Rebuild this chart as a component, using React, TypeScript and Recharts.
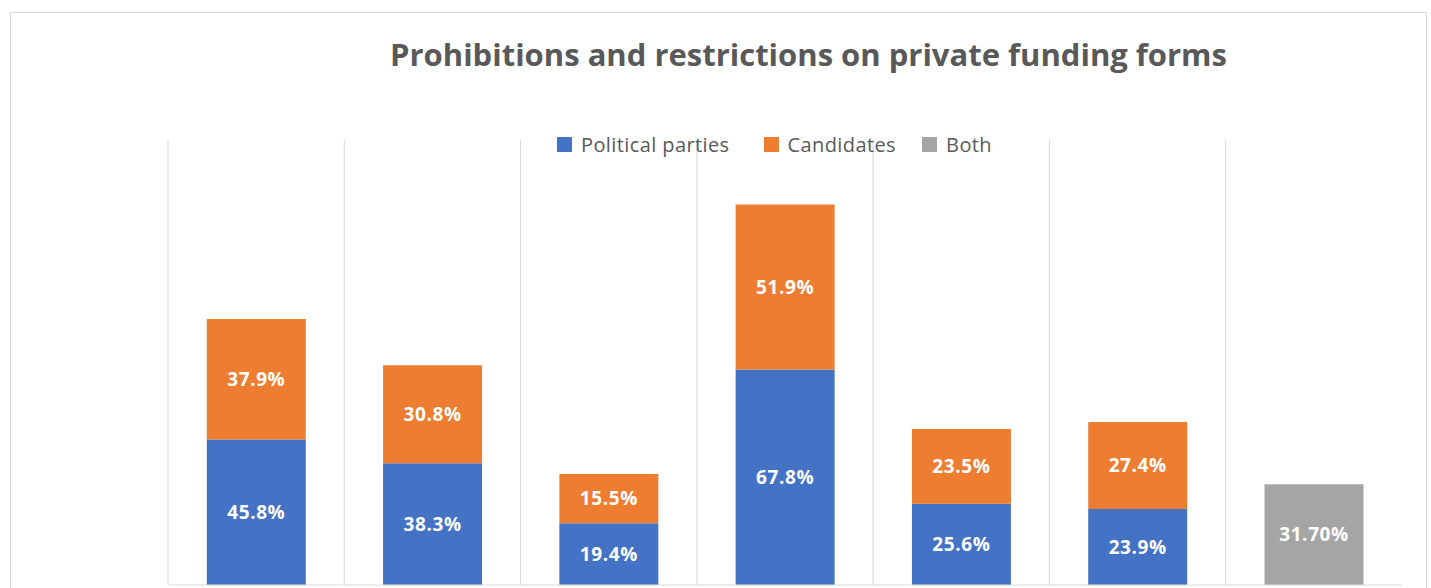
import React from "react";
import {
  BarChart,
  Bar,
  XAxis,
  YAxis,
  CartesianGrid,
  LabelList,
} from "recharts";

// the category names are cut off in the source picture, so they stay hidden
const categories = ["Form 1", "Form 2", "Form 3", "Form 4", "Form 5", "Form 6", "Form 7"];
const partiesValues = [45.8, 38.3, 19.4, 67.8, 25.6, 23.9, null];
const candidatesValues = [37.9, 30.8, 15.5, 51.9, 23.5, 27.4, null];
const bothValues = [null, null, null, null, null, null, 31.7];

const BLUE = "#4472C4";
const ORANGE = "#ED7D31";
const GRAY = "#A5A5A5";
const TEXT = "#595959";
const FONT = "'Open Sans', Lato, sans-serif";

const data = categories.map((name, i) => ({
  name,
  parties: partiesValues[i],
  candidates: candidatesValues[i],
  both: bothValues[i],
}));

const legendItems = [
  { label: "Political parties", color: BLUE, gap: 34 },
  { label: "Candidates", color: ORANGE, gap: 26 },
  { label: "Both", color: GRAY, gap: 0 },
];

function ChartLegend() {
  return (
    <div
      style={{
        position: "absolute",
        top: 118,
        left: 546,
        display: "flex",
        fontFamily: FONT,
        fontSize: 20,
        color: TEXT,
        letterSpacing: 0.4,
        zIndex: 1,
      }}
    >
      {legendItems.map((item) => (
        <div
          key={item.label}
          style={{ display: "flex", alignItems: "center", marginRight: item.gap }}
        >
          <span
            style={{
              width: 15,
              height: 15,
              background: item.color,
              display: "inline-block",
              marginRight: 9,
            }}
          />
          <span>{item.label}</span>
        </div>
      ))}
    </div>
  );
}

const fmt1 = (v: any) => (v == null ? "" : `${Number(v).toFixed(1)}%`);
const fmt2 = (v: any) => (v == null ? "" : `${Number(v).toFixed(2)}%`);

const labelStyle = {
  fill: "#ffffff",
  fontSize: 19,
  fontWeight: 700,
  fontFamily: FONT,
  letterSpacing: 0.6,
};

export default function App() {
  const W = 1417;
  const H = 600;
  return (
    <div
      style={{
        position: "absolute",
        left: 10,
        top: 12,
        width: W,
        height: H,
        border: "1px solid #d9d9d9",
        background: "#fff",
        boxSizing: "border-box",
      }}
    >
      <div
        style={{
          position: "absolute",
          top: 20,
          left: 0,
          width: W,
          paddingLeft: 178,
          boxSizing: "border-box",
          textAlign: "center",
          fontFamily: FONT,
          fontWeight: 700,
          fontSize: 31,
          color: TEXT,
        }}
      >
        Prohibitions and restrictions on private funding forms
      </div>
      <ChartLegend />
      <BarChart
        width={W - 2}
        height={H - 2}
        data={data}
        barCategoryGap="22%"
        margin={{ top: 127, right: 24, bottom: 25, left: 157 }}
      >
        <CartesianGrid
          horizontal={false}
          stroke="#d9d9d9"
          verticalCoordinatesGenerator={({ offset }: any) =>
            categories.map((_, i) => offset.left + (i * offset.width) / categories.length)
          }
        />
        <XAxis
          dataKey="name"
          tick={false}
          tickLine={false}
          height={1}
          axisLine={{ stroke: "#d9d9d9" }}
        />
        <YAxis hide domain={[0, 140]} />
        <Bar dataKey="parties" stackId="a" fill={BLUE} isAnimationActive={false}>
          <LabelList dataKey="parties" position="center" formatter={fmt1} style={labelStyle} />
        </Bar>
        <Bar dataKey="candidates" stackId="a" fill={ORANGE} isAnimationActive={false}>
          <LabelList dataKey="candidates" position="center" formatter={fmt1} style={labelStyle} />
        </Bar>
        <Bar dataKey="both" stackId="a" fill={GRAY} isAnimationActive={false}>
          <LabelList dataKey="both" position="center" formatter={fmt2} style={labelStyle} />
        </Bar>
      </BarChart>
    </div>
  );
}
